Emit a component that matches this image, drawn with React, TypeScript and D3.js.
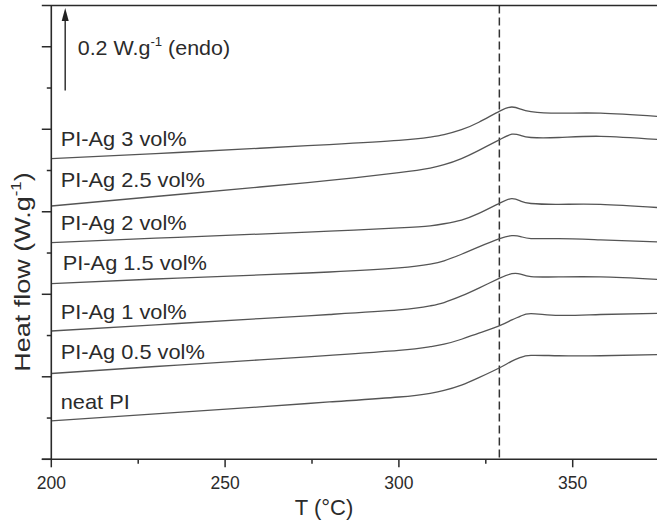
import React from "react";
import * as d3 from "d3";

// Temperature grid (°C)
const temps = [200, 230, 260, 280, 300, 309, 313, 318, 323, 329, 332.5, 335, 338, 346, 358, 375];

// Heat flow (W/g, offset curves)
const neatPI = [0.093, 0.110, 0.127, 0.139, 0.151, 0.160, 0.167, 0.180, 0.198, 0.222, 0.238, 0.247, 0.252, 0.251, 0.251, 0.254];
const ag05 = [0.208, 0.225, 0.241, 0.252, 0.264, 0.273, 0.279, 0.291, 0.306, 0.324, 0.338, 0.347, 0.353, 0.349, 0.351, 0.354];
const ag1 = [0.311, 0.326, 0.341, 0.351, 0.362, 0.372, 0.380, 0.396, 0.415, 0.439, 0.450, 0.449, 0.443, 0.442, 0.442, 0.436];
const ag15 = [0.426, 0.437, 0.447, 0.454, 0.464, 0.473, 0.481, 0.497, 0.515, 0.535, 0.542, 0.540, 0.535, 0.535, 0.532, 0.527];
const ag2 = [0.525, 0.536, 0.546, 0.553, 0.561, 0.566, 0.571, 0.580, 0.596, 0.621, 0.632, 0.626, 0.620, 0.618, 0.618, 0.610];
const ag25 = [0.614, 0.637, 0.660, 0.676, 0.695, 0.706, 0.714, 0.729, 0.749, 0.775, 0.788, 0.785, 0.780, 0.780, 0.783, 0.775];
const ag3 = [0.729, 0.741, 0.754, 0.763, 0.773, 0.781, 0.787, 0.799, 0.817, 0.844, 0.854, 0.849, 0.843, 0.839, 0.839, 0.831];

const seriesValues = [neatPI, ag05, ag1, ag15, ag2, ag25, ag3];
const seriesLabels = ["neat PI", "PI-Ag 0.5 vol%", "PI-Ag 1 vol%", "PI-Ag 1.5 vol%", "PI-Ag 2 vol%", "PI-Ag 2.5 vol%", "PI-Ag 3 vol%"];
const labelT = [202.7, 202.7, 202.7, 203.3, 202.7, 202.7, 202.7];
const labelV = [0.123, 0.243, 0.341, 0.458, 0.555, 0.660, 0.760];

const xTicks = [200, 250, 300, 350];
const xMinorTicks = [225, 275, 325, 375];
const yMajorTicks = [0, 0.2, 0.4, 0.6, 0.8, 1.0];
const yMinorTicks = [0.1, 0.3, 0.5, 0.7, 0.9];

const dashedT = 328.9;
const arrowT = 204;
const arrowBase = 0.894;
const arrowSize = 0.2;

const W = 657;
const H = 522;
const x = d3.scaleLinear().domain([200, 375]).range([51.3, 659.6]);
const y = d3.scaleLinear().domain([0, 1.1]).range([459.3, 5.5]);

const line = d3
  .line<[number, number]>()
  .x((d) => x(d[0]))
  .y((d) => y(d[1]))
  .curve(d3.curveNatural);

const font = "'Liberation Sans', Arial, Helvetica, sans-serif";
const axisColor = "#2a2a2a";
const curveColor = "#555";
const textColor = "#2b2b2b";

export default function App() {
  const x0 = x(200);
  const y0 = y(0);
  const yTop = y(1.1);
  const ax = x(arrowT);
  const aTop = y(arrowBase + arrowSize);
  return (
    <svg
      width={W}
      height={H}
      style={{ position: "fixed", left: 0, top: 0, background: "#fff" }}
      fontFamily={font}
    >
      <rect width={W} height={H} fill="#fff" />
      {/* dashed marker */}
      <line
        x1={x(dashedT)}
        x2={x(dashedT)}
        y1={yTop}
        y2={y0}
        stroke="#333"
        strokeWidth={1.5}
        strokeDasharray="8,4"
      />
      {/* curves */}
      {seriesValues.map((vals, i) => (
        <path
          key={i}
          d={line(temps.map((t, j) => [t, vals[j]] as [number, number])) || ""}
          fill="none"
          stroke={curveColor}
          strokeWidth={1.3}
        />
      ))}
      {/* labels */}
      {seriesLabels.map((lab, i) => (
        <g key={lab} transform={`translate(${x(labelT[i])},${y(labelV[i])}) scale(1.09,1)`}>
          <text x={0} y={0} fontSize={20} fill={textColor}>
            {lab}
          </text>
        </g>
      ))}
      {/* axes */}
      <line x1={x0} x2={x0} y1={yTop} y2={y0} stroke={axisColor} strokeWidth={1.6} />
      <line x1={x0 - 9.5} x2={W} y1={y0} y2={y0} stroke={axisColor} strokeWidth={1.6} />
      <line x1={x0 - 9.5} x2={W} y1={yTop} y2={yTop} stroke={axisColor} strokeWidth={1.4} />
      {yMajorTicks.map((v) => (
        <line key={"ym" + v} x1={x0 - 9.5} x2={x0} y1={y(v)} y2={y(v)} stroke={axisColor} strokeWidth={1.5} />
      ))}
      {yMinorTicks.map((v) => (
        <line key={"yn" + v} x1={x0 - 4.5} x2={x0} y1={y(v)} y2={y(v)} stroke={axisColor} strokeWidth={1.5} />
      ))}
      {xTicks.map((t) => (
        <g key={"xm" + t}>
          <line x1={x(t)} x2={x(t)} y1={y0} y2={y0 + 8} stroke={axisColor} strokeWidth={1.5} />
          <text x={x(t)} y={489.3} fontSize={17.5} textAnchor="middle" fill={textColor}>
            {t}
          </text>
        </g>
      ))}
      {xMinorTicks.map((t) => (
        <line key={"xn" + t} x1={x(t)} x2={x(t)} y1={y0} y2={y0 + 4.5} stroke={axisColor} strokeWidth={1.5} />
      ))}
      {/* axis titles */}
      <text x={324} y={515} fontSize={22} textAnchor="middle" fill={textColor}>
        T (°C)
      </text>
      <g transform="translate(29.5,272) rotate(-90) scale(1.2,1)">
        <text fontSize={22.5} textAnchor="middle" fill={textColor}>
          Heat flow (W.g
          <tspan fontSize={14} dy={-9}>-1</tspan>
          <tspan dy={9}>)</tspan>
        </text>
      </g>
      {/* scale arrow */}
      <line x1={ax} x2={ax} y1={y(arrowBase)} y2={aTop + 12} stroke="#333" strokeWidth={1.5} />
      <path d={`M${ax - 3.5},${aTop + 13} L${ax},${aTop} L${ax + 3.5},${aTop + 13} Z`} fill="#222" />
      <g transform={`translate(${x(207.6)},55) scale(1.1,1)`}>
        <text x={0} y={0} fontSize={19.5} fill={textColor}>
          0.2 W.g
          <tspan fontSize={12} dy={-9}>-1</tspan>
          <tspan dy={9}> (endo)</tspan>
        </text>
      </g>
    </svg>
  );
}
